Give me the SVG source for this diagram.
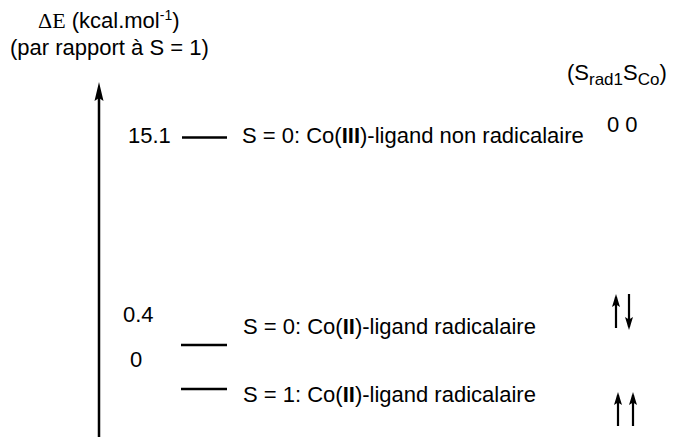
<svg xmlns="http://www.w3.org/2000/svg" width="678" height="439" viewBox="0 0 678 439">
<style>
text{font-family:"Liberation Sans",Arial,sans-serif;font-size:22px;fill:#000}
.serif{font-family:"Liberation Serif","Times New Roman",serif}
.lvl{stroke:#000;stroke-width:2.7}
.spin{stroke:#000;stroke-width:2.2;fill:none}
.axis{stroke:#000;stroke-width:2.5}
</style>
<defs>
<marker id="ah" markerUnits="userSpaceOnUse" markerWidth="14" markerHeight="9" refX="10" refY="4" orient="auto" viewBox="0 0 14 8">
<path d="M0,0 L13,4 L0,8 L2.5,4 z" fill="#000"/>
</marker>
</defs>
<g id="axis">
<text x="38" y="28"><tspan class="serif">ΔE</tspan> (kcal.mol<tspan font-size="14" dy="-8">-1</tspan><tspan dy="8">)</tspan></text>
<text x="10" y="55">(par rapport à S = 1)</text>
<line class="axis" x1="99" y1="437" x2="99" y2="96"/>
<polygon points="99,82 94.5,101 99,98 103.5,101" fill="#000"/>
</g>
<g id="header">
<text x="567" y="80">(S<tspan font-size="17" dy="5">rad1</tspan><tspan dy="-5">S</tspan><tspan font-size="17" dy="5">Co</tspan><tspan dy="-5">)</tspan></text>
</g>
<g id="level-s0-coIII">
<text x="128" y="143">15.1</text>
<line class="lvl" x1="182" y1="137.5" x2="227" y2="137.5"/>
<text x="242" y="143">S = 0: Co(<tspan font-weight="bold">III</tspan>)-ligand non radicalaire</text>
<text x="607" y="132">0 0</text>
</g>
<g id="level-s0-coII">
<text x="123" y="322">0.4</text>
<line class="lvl" x1="181" y1="345" x2="227" y2="345"/>
<text x="243" y="334">S = 0: Co(<tspan font-weight="bold">II</tspan>)-ligand radicalaire</text>
</g>
<g id="level-s1-coII">
<text x="130" y="367">0</text>
<line class="lvl" x1="181" y1="389" x2="227" y2="389"/>
<text x="243" y="402">S = 1: Co(<tspan font-weight="bold">II</tspan>)-ligand radicalaire</text>
</g>
<g id="connectors">
<line class="spin" x1="616" y1="328" x2="616" y2="297" marker-end="url(#ah)"/>
<line class="spin" x1="629" y1="294" x2="629" y2="327" marker-end="url(#ah)"/>
<line class="spin" x1="618" y1="426" x2="618" y2="395" marker-end="url(#ah)"/>
<line class="spin" x1="633" y1="426" x2="633" y2="395" marker-end="url(#ah)"/>
</g>
</svg>
